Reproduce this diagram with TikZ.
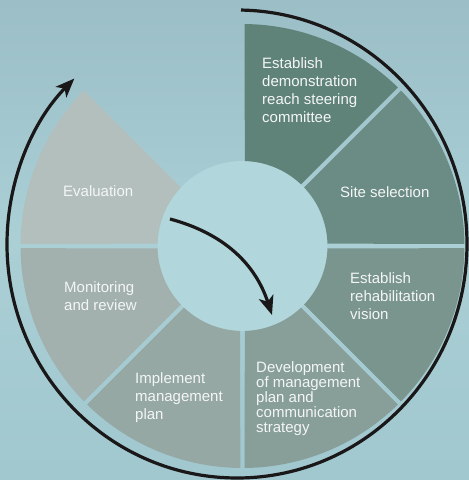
\documentclass[tikz,border=0pt]{standalone}
\usepackage{fontspec}
\setmainfont{Liberation Sans}
\usetikzlibrary{arrows.meta}

\definecolor{bgtop}{HTML}{9BBEC7}
\definecolor{bgmid}{HTML}{AACFD5}
\definecolor{bgbot}{HTML}{A1C7CF}
\definecolor{hubfill}{HTML}{B1D6DB}
\definecolor{segA}{HTML}{5F8379}
\definecolor{segB}{HTML}{6B8C84}
\definecolor{segC}{HTML}{79958E}
\definecolor{segD}{HTML}{879E99}
\definecolor{segE}{HTML}{95A8A4}
\definecolor{segF}{HTML}{A2B1AE}
\definecolor{segG}{HTML}{B3BFBC}
\definecolor{labeltext}{HTML}{F4F6F5}
\definecolor{arrowink}{HTML}{1A1718}

\newcommand{\ringin}{85}
\newcommand{\ringout}{222}
\newcommand{\gapin}{1.52}
\newcommand{\gapout}{0.58}

\begin{document}
\begin{tikzpicture}[x=1pt,y=1pt,
    steplabel/.style={anchor=north west,inner sep=0pt,align=left,text=labeltext,
      font=\fontsize{15}{18}\selectfont},
    cyclearrow/.style={line width=3.2pt,draw=arrowink,
      -{Stealth[length=19pt,width=15pt,inset=5pt]}}]
    \useasboundingbox (-242.5,-234) rectangle (226.5,246);
    \shade[top color=bgtop,bottom color=bgbot,middle color=bgmid] (-242.5,-234) rectangle (226.5,246);
    \fill[hubfill] (0,0) circle[radius=\ringin];

    \foreach \a/\b/\col in {90/45/segA,45/0/segB,0/-45/segC,-45/-90/segD,
                            -90/-135/segE,-135/-180/segF,180/135/segG}
      \fill[\col] ({\b+\gapin}:\ringin) -- ({\b+\gapout}:\ringout)
        arc[start angle=\b+\gapout,end angle=\a-\gapout,radius=\ringout]
        -- ({\a-\gapin}:\ringin)
        arc[start angle=\a-\gapin,end angle=\b+\gapin,radius=\ringin] -- cycle;

    \node[steplabel] (est) at (19.5,189) {Establish\\demonstration\\reach steering\\committee};
    \node[steplabel] (site) at (97.5,60) {Site selection};
    \node[steplabel] (vision) at (107.5,-26) {Establish\\rehabilitation\\vision};
    \node[steplabel,font=\fontsize{15}{15.2}\selectfont] (devel) at (13.5,-115)
      {Development\\of management\\plan and\\communication\\strategy};
    \node[steplabel] (implement) at (-107.5,-126) {Implement\\management\\plan};
    \node[steplabel] (monitor) at (-178.5,-35) {Monitoring\\and review};
    \node[steplabel] (evaluation) at (-179.5,61) {Evaluation};

    \coordinate (cyclestart) at ([shift={(-5.5,2)}]89:230 and 234);
    \draw[cyclearrow] (cyclestart) arc[start angle=89,end angle=-225,x radius=230,y radius=234];

    \coordinate (hubstart) at (-72.5,27);
    \coordinate (hubend) at (29.5,-69);
    \draw[cyclearrow] (hubstart) to[out=-15,in=108] (hubend);
  \end{tikzpicture}
\end{document}
